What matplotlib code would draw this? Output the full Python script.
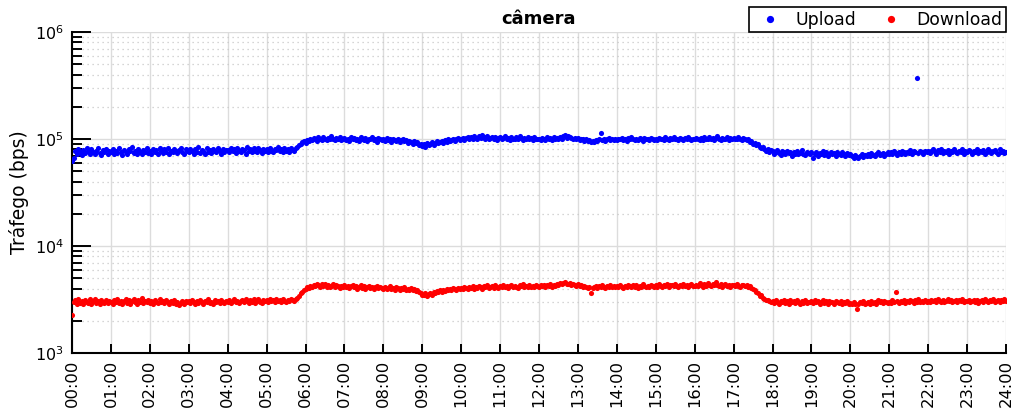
import numpy as np
import matplotlib
matplotlib.use("Agg")
import matplotlib.pyplot as plt
from matplotlib.lines import Line2D
from matplotlib.ticker import LogLocator, FixedLocator, NullFormatter

title = "câmera"
ylabel = "Tráfego (bps)"
series_names = ["Upload", "Download"]
hour_labels = ["%02d:00" % h for h in range(25)]

# one row per hour (00..23), samples evenly spread over the hour
upload_kbps_by_hour = [
    [62, 66, 78, 73, 81, 75, 71, 79, 74, 82, 77, 72, 80, 75, 73, 78, 83, 74, 71, 79, 76, 81, 73, 77],
    [75, 80, 72, 78, 74, 82, 76, 71, 79, 75, 73, 81, 77, 84, 74, 78, 72, 80, 76, 73, 79, 75, 82, 74],
    [78, 73, 81, 76, 79, 72, 83, 77, 74, 80, 76, 82, 73, 78, 75, 81, 77, 74, 79, 83, 76, 72, 80, 77],
    [75, 81, 78, 73, 80, 76, 84, 74, 79, 77, 72, 82, 76, 79, 74, 81, 78, 75, 83, 77, 73, 80, 76, 79],
    [79, 75, 82, 77, 80, 74, 83, 78, 76, 81, 79, 73, 84, 77, 80, 75, 82, 78, 76, 83, 79, 74, 81, 78],
    [80, 76, 83, 78, 75, 81, 79, 84, 77, 80, 76, 82, 78, 81, 75, 83, 79, 77, 82, 85, 88, 90, 93, 95],
    [92, 97, 95, 100, 98, 103, 99, 96, 104, 101, 98, 105, 100, 97, 103, 99, 106, 101, 97, 102, 99, 104, 98, 101],
    [103, 98, 100, 96, 105, 99, 102, 97, 101, 95, 104, 100, 98, 103, 96, 101, 99, 105, 97, 100, 94, 102, 99, 97],
    [100, 96, 102, 97, 99, 94, 101, 98, 95, 100, 93, 97, 99, 95, 98, 92, 96, 94, 90, 95, 91, 93, 88, 90],
    [86, 89, 84, 91, 87, 90, 93, 88, 92, 95, 91, 94, 96, 92, 97, 94, 99, 95, 98, 101, 96, 99, 102, 97],
    [100, 103, 98, 102, 105, 99, 104, 101, 107, 103, 100, 106, 102, 108, 104, 101, 106, 99, 103, 105, 100, 104, 98, 102],
    [104, 99, 102, 106, 100, 103, 97, 105, 101, 99, 104, 100, 106, 102, 98, 103, 100, 105, 99, 102, 97, 104, 101, 99],
    [101, 98, 103, 100, 97, 104, 99, 102, 98, 105, 100, 103, 99, 104, 101, 106, 108, 103, 107, 105, 102, 99, 103, 100],
    [102, 98, 101, 99, 96, 100, 95, 97, 93, 96, 94, 98, 95, 99, 114, 97, 100, 96, 99, 102, 97, 101, 98, 100],
    [97, 101, 99, 103, 98, 100, 96, 102, 99, 104, 100, 97, 101, 98, 103, 100, 96, 102, 99, 101, 98, 103, 100, 97],
    [101, 98, 103, 99, 100, 97, 104, 101, 98, 102, 100, 105, 99, 101, 97, 103, 100, 98, 102, 99, 104, 100, 97, 101],
    [99, 103, 100, 97, 102, 98, 104, 101, 99, 105, 100, 103, 98, 102, 106, 100, 97, 103, 99, 101, 104, 98, 102, 100],
    [103, 99, 101, 104, 100, 98, 102, 99, 97, 100, 94, 96, 90, 92, 87, 89, 84, 82, 85, 80, 78, 81, 76, 79],
    [77, 73, 76, 79, 74, 71, 77, 75, 72, 78, 74, 76, 70, 75, 73, 77, 72, 74, 79, 73, 71, 76, 74, 72],
    [75, 66, 72, 76, 70, 74, 73, 77, 71, 75, 69, 73, 76, 72, 74, 70, 75, 73, 71, 76, 72, 70, 74, 71],
    [72, 69, 67, 71, 68, 66, 70, 72, 68, 71, 69, 73, 70, 74, 71, 69, 73, 75, 71, 72, 74, 70, 73, 75],
    [72, 75, 73, 77, 74, 71, 76, 73, 78, 75, 72, 76, 74, 79, 73, 77, 75, 372, 74, 78, 76, 73, 77, 75],
    [78, 74, 77, 80, 75, 73, 79, 76, 81, 74, 77, 75, 79, 73, 78, 76, 80, 75, 74, 78, 76, 81, 73, 77],
    [75, 79, 77, 73, 78, 76, 80, 74, 77, 75, 79, 72, 76, 81, 78, 74, 77, 79, 75, 73, 80, 76, 78, 74],
]
upload_kbps_end = 76  # value at 24:00

download_bps_by_hour = [
    [2270, 2980, 3120, 2890, 3200, 2950, 3060, 2840, 3150, 3010, 2920, 3180, 2870, 3090, 3230, 2960, 3040, 2880, 3160, 3000, 2910, 3110, 2950, 3070],
    [3020, 2890, 3140, 2970, 3210, 2930, 3080, 2860, 3030, 3170, 2950, 3100, 2900, 3060, 3220, 2980, 2870, 3130, 3010, 3250, 2940, 3080, 2990, 3120],
    [2960, 3090, 2880, 3150, 3020, 2930, 3180, 2990, 3060, 2910, 3110, 2970, 2860, 3040, 2950, 3120, 2890, 3010, 2820, 2960, 3070, 2900, 3030, 2980],
    [3050, 2930, 3110, 2990, 2880, 3070, 2960, 3140, 3010, 2900, 3080, 2970, 3190, 2940, 3020, 2870, 3100, 2990, 3060, 2920, 3130, 3000, 2950, 3080],
    [2990, 3110, 2940, 3060, 3170, 2980, 3090, 2920, 3040, 3150, 2970, 3210, 3030, 2950, 3120, 3000, 3180, 2960, 3070, 3230, 3010, 2940, 3130, 3060],
    [3100, 2990, 3170, 3040, 3120, 2980, 3210, 3070, 3150, 3020, 3190, 3090, 3010, 3160, 3060, 3230, 3100, 3040, 3180, 3300, 3420, 3600, 3750, 3900],
    [3950, 4100, 4020, 4250, 4150, 4350, 4200, 4400, 4280, 4150, 4380, 4220, 4450, 4180, 4320, 4100, 4260, 4400, 4150, 4300, 4220, 4050, 4250, 4180],
    [4300, 4120, 4250, 4050, 4200, 4350, 4100, 4220, 3980, 4150, 4280, 4070, 4200, 3990, 4130, 4250, 4050, 4180, 3970, 4100, 4220, 4020, 4150, 4060],
    [4000, 4130, 3950, 4080, 4200, 3980, 4050, 3900, 4100, 4020, 3880, 4060, 3950, 4120, 3870, 3990, 3920, 4030, 3850, 3950, 3780, 3880, 3700, 3620],
    [3520, 3450, 3600, 3400, 3550, 3650, 3500, 3700, 3620, 3780, 3680, 3850, 3750, 3900, 3800, 3950, 3850, 4000, 3900, 4050, 3950, 3880, 4080, 3980],
    [4050, 3950, 4150, 4020, 3980, 4180, 4080, 4220, 3990, 4120, 4050, 4250, 4100, 4000, 4200, 4130, 4280, 4060, 4170, 4230, 4090, 4300, 4150, 4080],
    [4200, 4100, 4300, 4150, 4250, 4050, 4220, 4350, 4120, 4270, 4180, 4050, 4300, 4200, 4380, 4150, 4250, 4100, 4320, 4180, 4260, 4130, 4350, 4220],
    [4150, 4300, 4200, 4350, 4120, 4280, 4230, 4400, 4180, 4320, 4250, 4450, 4300, 4550, 4400, 4500, 4620, 4450, 4380, 4520, 4300, 4420, 4350, 4250],
    [4380, 4200, 4300, 4150, 4250, 4100, 4050, 4180, 3650, 4020, 4150, 4250, 4080, 4200, 4120, 4300, 4180, 4050, 4250, 4150, 4320, 4100, 4220, 4180],
    [4250, 4120, 4300, 4180, 4080, 4260, 4150, 4350, 4200, 4100, 4280, 4170, 4320, 4050, 4230, 4150, 4380, 4200, 4100, 4270, 4180, 4350, 4220, 4140],
    [4300, 4180, 4380, 4250, 4100, 4320, 4220, 4400, 4150, 4280, 4350, 4200, 4420, 4260, 4130, 4310, 4240, 4450, 4200, 4330, 4150, 4280, 4380, 4230],
    [4200, 4350, 4250, 4480, 4300, 4150, 4400, 4250, 4550, 4320, 4200, 4380, 4280, 4600, 4350, 4250, 4420, 4150, 4300, 4450, 4200, 4350, 4100, 4280],
    [4300, 4200, 4400, 4250, 4150, 4350, 4280, 4200, 4300, 4150, 4250, 4050, 3950, 3850, 3700, 3600, 3400, 3450, 3300, 3200, 3150, 3100, 3050, 3000],
    [3080, 2950, 3120, 3010, 2900, 3060, 2980, 3150, 2930, 3040, 2880, 3100, 2990, 3070, 2920, 3130, 3000, 2870, 3050, 2960, 3110, 2940, 3020, 2980],
    [3030, 2920, 3100, 2980, 3060, 2890, 3010, 3150, 2950, 3040, 2900, 3080, 2970, 3020, 2880, 3090, 2990, 2930, 3060, 2900, 3010, 2950, 3040, 2870],
    [2950, 2880, 3020, 2900, 2600, 2850, 2980, 2920, 3050, 2880, 2960, 3010, 2900, 3080, 2950, 3020, 2890, 3100, 2980, 3040, 2930, 3070, 3000, 2960],
    [3020, 2950, 3100, 2980, 3700, 3060, 2920, 3080, 3010, 3150, 2960, 3050, 2990, 3120, 3030, 2940, 3100, 3010, 3180, 2970, 3060, 3020, 3130, 2990],
    [3080, 3000, 3150, 3040, 3110, 2970, 3200, 3060, 3020, 3140, 2990, 3090, 3180, 3030, 3110, 2980, 3070, 3160, 3010, 3100, 3050, 3190, 3020, 3080],
    [3040, 3120, 2990, 3080, 3160, 3010, 3100, 2950, 3060, 3140, 3020, 3200, 3070, 2980, 3110, 3050, 3230, 2970, 3090, 3150, 3000, 3120, 3060, 3180],
]
download_bps_end = 3050  # value at 24:00


def flatten(rows, end_value):
    times, vals = [], []
    for h, row in enumerate(rows):
        n = len(row)
        for i, v in enumerate(row):
            times.append(h + i / n)
            vals.append(v)
    times.append(len(rows))
    vals.append(end_value)
    return np.array(times), np.array(vals, dtype=float)


t_up, up = flatten(upload_kbps_by_hour, upload_kbps_end)
up = up * 1000.0
t_down, down = flatten(download_bps_by_hour, download_bps_end)

fig = plt.figure(figsize=(10.14, 4.12), dpi=100)
ax = fig.add_axes([72 / 1014, 1 - 353 / 412, (1006 - 72) / 1014, (353 - 32) / 412])

ax.plot(t_up, up, "o", color="#0000ff", ms=3.7, mew=0, zorder=3)
ax.plot(t_down, down, "o", color="#ff0000", ms=3.7, mew=0, zorder=3)

ax.set_yscale("log")
ax.set_ylim(1e3, 1e6)
ax.set_xlim(0, 24)

ax.xaxis.set_major_locator(FixedLocator(range(25)))
ax.set_xticklabels(hour_labels, rotation=90, fontsize=11.8)
ax.yaxis.set_major_locator(LogLocator(base=10, numticks=10))
ax.yaxis.set_minor_locator(LogLocator(base=10, subs=np.arange(2, 10), numticks=20))
ax.yaxis.set_minor_formatter(NullFormatter())

for s in ["top", "right"]:
    ax.spines[s].set_visible(False)
for s in ["left", "bottom"]:
    ax.spines[s].set_linewidth(1.5)
    ax.spines[s].set_color("black")

ax.tick_params(axis="y", which="major", direction="in", length=14, width=1.4,
               labelsize=11.5, pad=6, right=False)
ax.tick_params(axis="y", which="minor", direction="in", length=7, width=1.4, right=False)
ax.tick_params(axis="x", which="major", direction="in", length=6.5, width=1.4,
               pad=5, top=False)

ax.grid(True, which="major", color="#dcdcdc", lw=1.0, ls="-", zorder=0)
ax.grid(True, which="minor", axis="y", color="#c8c8c8", lw=0.9, ls=(0, (1, 3)), zorder=0)
ax.set_axisbelow(True)

ax.set_title(title, fontsize=13, fontweight="bold", pad=6)
ax.set_ylabel(ylabel, fontsize=13.5, labelpad=4)

handles = [
    Line2D([], [], ls="none", marker="o", color="#0000ff", ms=5.2, mew=0),
    Line2D([], [], ls="none", marker="o", color="#ff0000", ms=5.2, mew=0),
]
leg = ax.legend(handles, series_names, loc="lower right", bbox_to_anchor=(1.0, 1.0),
                ncol=2, fontsize=12.4, frameon=True, fancybox=False, framealpha=1,
                edgecolor="black", borderpad=0.2, handletextpad=0.5,
                columnspacing=1.0, borderaxespad=0.0)
leg.get_frame().set_linewidth(1.2)

fig.savefig("out.png", dpi=100)
